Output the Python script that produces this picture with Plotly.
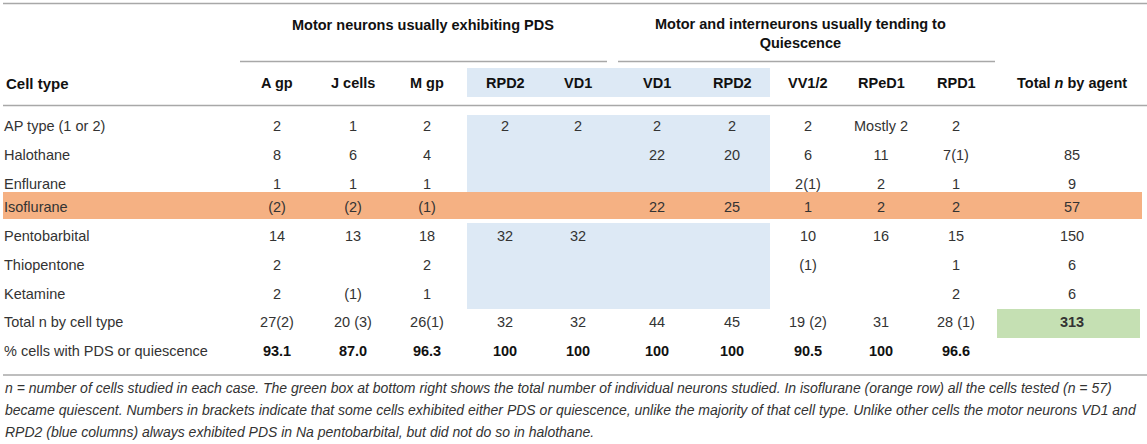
import plotly.graph_objects as go

# ---------------- data ----------------
group_titles = ["Motor neurons usually exhibiting PDS",
                "Motor and interneurons usually tending to<br>Quiescence"]
col_headers = ["A gp", "J cells", "M gp", "RPD2", "VD1", "VD1", "RPD2",
               "VV1/2", "RPeD1", "RPD1", "Total <i>n</i> by agent"]
row_labels = ["AP type (1 or 2)", "Halothane", "Enflurane", "Isoflurane",
              "Pentobarbital", "Thiopentone", "Ketamine",
              "Total n by cell type", "% cells with PDS or quiescence"]
ap_type = ["2", "1", "2", "2", "2", "2", "2", "2", "Mostly 2", "2", ""]
halothane = ["8", "6", "4", "", "", "22", "20", "6", "11", "7(1)", "85"]
enflurane = ["1", "1", "1", "", "", "", "", "2(1)", "2", "1", "9"]
isoflurane = ["(2)", "(2)", "(1)", "", "", "22", "25", "1", "2", "2", "57"]
pentobarbital = ["14", "13", "18", "32", "32", "", "", "10", "16", "15", "150"]
thiopentone = ["2", "", "2", "", "", "", "", "(1)", "", "1", "6"]
ketamine = ["2", "(1)", "1", "", "", "", "", "", "", "2", "6"]
total_by_cell = ["27(2)", "20 (3)", "26(1)", "32", "32", "44", "45",
                 "19 (2)", "31", "28 (1)", "313"]
pct_pds = ["93.1", "87.0", "96.3", "100", "100", "100", "100",
           "90.5", "100", "96.6", ""]
caption_lines = [
    "<i>n</i> = number of cells studied in each case. The green box at bottom right shows the total number of individual neurons studied. In isoflurane (orange row) all the cells tested (<i>n</i> = 57)",
    "became quiescent. Numbers in brackets indicate that some cells exhibited either PDS or quiescence, unlike the majority of that cell type. Unlike other cells the motor neurons VD1 and",
    "RPD2 (blue columns) always exhibited PDS in Na pentobarbital, but did not do so in halothane.",
]
rows = [ap_type, halothane, enflurane, isoflurane, pentobarbital,
        thiopentone, ketamine, total_by_cell, pct_pds]

# ---------------- layout geometry ----------------
W, H = 1147, 444
col_x = [277, 353, 427, 505, 578, 657, 732, 808, 881, 956, 1072]
row_y = [127, 156, 185, 208, 237, 266, 295, 323, 352]
header_y = 83
FONT = "Liberation Sans, Arial, sans-serif"
TXT = "#333333"
LINE = "#a8a8a8"
BLUE = "#dde9f5"
ORANGE = "#f5b183"
GREEN = "#c5e0b3"

fig = go.Figure()

shapes = []
def rect(x0, y0, x1, y1, color):
    shapes.append(dict(type="rect", xref="x", yref="y", x0=x0, x1=x1, y0=y0, y1=y1,
                       fillcolor=color, line=dict(width=0), layer="below"))
def hline(x0, x1, y, w=1.5):
    shapes.append(dict(type="line", xref="x", yref="y", x0=x0, x1=x1, y0=y, y1=y,
                       line=dict(color=LINE, width=w), layer="below"))

# blue columns
rect(467, 68, 770, 97, BLUE)
rect(467, 115, 770, 192, BLUE)
rect(467, 223, 770, 309, BLUE)
# orange row
rect(3, 192, 1142, 219, ORANGE)
# green total box
rect(997, 309, 1140, 338, GREEN)
# rules
hline(3, 1147, 3.5)
hline(240, 607, 61.5)
hline(618, 995, 61.5)
hline(3, 1147, 105.5)
hline(3, 1147, 375)

# group titles
ann = []
ann.append(dict(x=423, y=25, text="<b>" + group_titles[0] + "</b>"))
ann.append(dict(x=800, y=33, text="<b>" + group_titles[1] + "</b>"))
for a in ann:
    a.update(xref="x", yref="y", showarrow=False, xanchor="center", yanchor="middle",
             font=dict(family=FONT, size=14.5, color="#111111"))

# header row
ann.append(dict(x=4, y=header_y, text="<b>Cell type</b>", xref="x", yref="y",
                showarrow=False, xanchor="left", yanchor="middle",
                font=dict(family=FONT, size=15, color="#111111")))
for cx, h in zip(col_x, col_headers):
    ann.append(dict(x=cx, y=header_y, text="<b>" + h + "</b>", xref="x", yref="y",
                    showarrow=False, xanchor="center", yanchor="middle",
                    font=dict(family=FONT, size=14.5, color="#111111")))

# caption
for i, line in enumerate(caption_lines):
    ann.append(dict(x=3, y=388 + 22 * i, text="<i>" + line + "</i>", xref="x", yref="y",
                    showarrow=False, xanchor="left", yanchor="middle",
                    font=dict(family=FONT, size=14, color=TXT)))

# row labels
fig.add_trace(go.Scatter(x=[4] * len(row_labels), y=row_y, text=row_labels,
                         mode="text", textposition="middle right",
                         textfont=dict(family=FONT, size=14.5, color=TXT),
                         hoverinfo="skip", cliponaxis=False, showlegend=False))

# cell values
for ri, (vals, y) in enumerate(zip(rows, row_y)):
    bold_all = ri == len(rows) - 1
    xs, ys, ts = [], [], []
    for ci, v in enumerate(vals):
        if v == "":
            continue
        bold = bold_all or (ri == len(rows) - 2 and ci == len(vals) - 1)
        xs.append(col_x[ci]); ys.append(y)
        ts.append("<b>" + v + "</b>" if bold else v)
    fig.add_trace(go.Scatter(x=xs, y=ys, text=ts, mode="text",
                             textposition="middle center",
                             textfont=dict(family=FONT, size=14.5,
                                           color="#111111" if bold_all else TXT),
                             hoverinfo="skip", cliponaxis=False, showlegend=False))

fig.update_layout(
    width=W, height=H, margin=dict(l=0, r=0, t=0, b=0),
    paper_bgcolor="white", plot_bgcolor="white",
    xaxis=dict(range=[0, W], visible=False, fixedrange=True),
    yaxis=dict(range=[H, 0], visible=False, fixedrange=True),
    shapes=shapes, annotations=ann,
)
fig.write_html("out.html", config={"displayModeBar": False},
               post_script="document.body.style.margin='0px';document.body.style.padding='0px';")
